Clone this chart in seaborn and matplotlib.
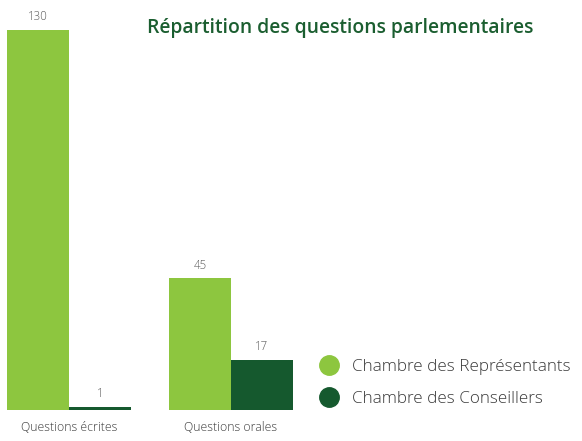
import matplotlib
matplotlib.use("Agg")
import matplotlib.pyplot as plt
from matplotlib.lines import Line2D
import seaborn as sns
import pandas as pd

categories = ["Questions écrites", "Questions orales"]
representants = [130, 45]
conseillers = [1, 17]
series_names = ["Chambre des Représentants", "Chambre des Conseillers"]
colors = ["#8DC63F", "#15592E"]
title = "Répartition des questions parlementaires"

df = pd.DataFrame({
    "cat": categories * 2,
    "val": representants + conseillers,
    "serie": [series_names[0]] * len(categories) + [series_names[1]] * len(categories),
})

sns.set_theme(style="white")
plt.rcParams["font.family"] = ["Open Sans", "DejaVu Sans"]

fig = plt.figure(figsize=(5.82, 4.41), dpi=100)
ax = fig.add_axes([0, 31 / 441, 300 / 582, 380 / 441])
sns.barplot(data=df, x="cat", y="val", hue="serie", palette=colors,
            width=0.765, saturation=1, ax=ax, legend=False, linewidth=0)
ax.set_xlim(-69 / 162, 231 / 162)
ax.set_ylim(0, 130)
for c in ax.containers:
    ax.bar_label(c, padding=5, fontsize=8.3, color="#5a5a5a", clip_on=False,
                 fontweight="light")
ax.set_xlabel("")
ax.set_ylabel("")
ax.set_yticks([])
ax.tick_params(axis="x", length=0, pad=8, labelsize=8.8, labelcolor="#3a3a3a")
for lab in ax.get_xticklabels():
    lab.set_fontweight("light")
for s in ax.spines.values():
    s.set_visible(False)
ax.patch.set_alpha(0)

fig.text(340 / 582, 1 - 28 / 441, title, ha="center", va="center",
         fontsize=13.9, fontweight="semibold", color="#1B5E30")

handles = [Line2D([], [], marker="o", linestyle="none", markersize=14,
                  markerfacecolor=c, markeredgecolor=c) for c in colors]
leg = fig.legend(handles, series_names, loc="center left",
                 bbox_to_anchor=(308 / 582, 1 - 383 / 441), frameon=False,
                 fontsize=12.3, labelcolor="#3a3a3a", handletextpad=0.6,
                 labelspacing=0.95, borderpad=0, handlelength=1.5)
for t in leg.get_texts():
    t.set_fontweight("light")

fig.savefig("out.png", dpi=100)
